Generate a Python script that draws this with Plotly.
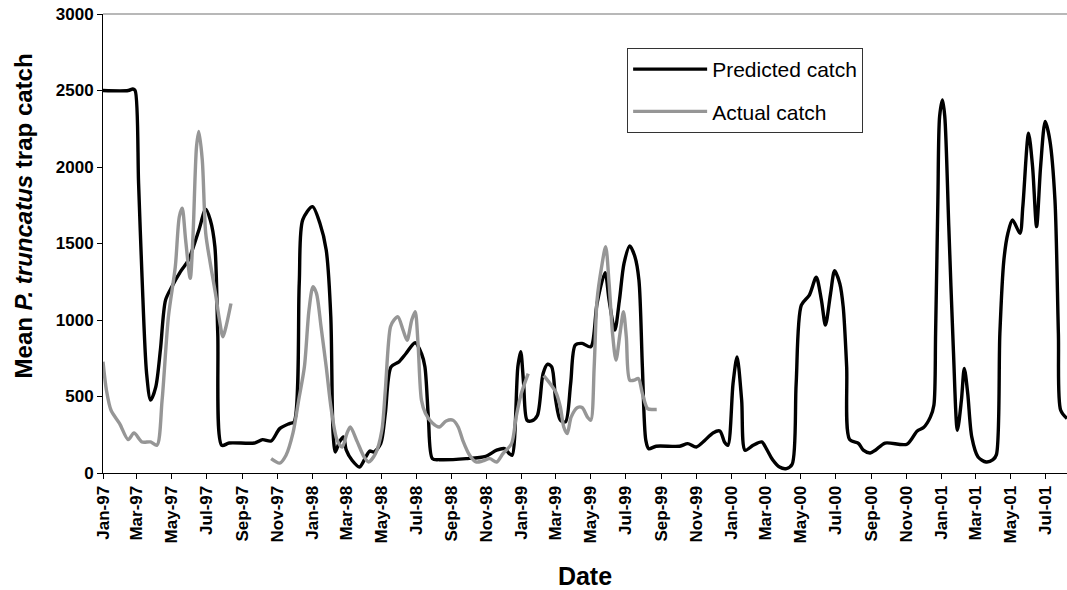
import plotly.graph_objects as go

# Predicted trap catch (model output)
pred_dates = [
    "1997-01-01", "1997-02-14", "1997-02-22", "1997-02-26", "1997-03-04", "1997-03-10",
    "1997-03-18", "1997-03-25", "1997-04-03", "1997-04-11", "1997-04-20", "1997-05-01",
    "1997-05-16", "1997-05-30", "1997-06-17", "1997-06-29", "1997-07-07", "1997-07-15",
    "1997-07-20", "1997-07-27", "1997-08-09", "1997-09-22", "1997-10-06", "1997-10-21",
    "1997-11-05", "1997-11-22", "1997-11-30", "1997-12-09", "1997-12-15", "1998-01-01",
    "1998-01-14", "1998-01-25", "1998-02-02", "1998-02-06", "1998-02-10", "1998-02-17",
    "1998-02-24", "1998-03-01", "1998-03-11", "1998-03-24", "1998-04-04", "1998-04-11",
    "1998-04-18", "1998-04-30", "1998-05-08", "1998-05-18", "1998-06-01", "1998-06-13",
    "1998-06-29", "1998-07-10", "1998-07-16", "1998-07-22", "1998-07-29", "1998-08-10",
    "1998-09-26", "1998-10-30", "1998-11-18", "1998-12-02", "1998-12-10", "1998-12-15",
    "1998-12-25", "1998-12-30", "1999-01-04", "1999-01-10", "1999-01-18", "1999-01-28",
    "1999-02-07", "1999-02-15", "1999-02-22", "1999-03-01", "1999-03-09", "1999-03-18",
    "1999-03-27", "1999-04-04", "1999-04-16", "1999-05-01", "1999-05-12", "1999-05-26",
    "1999-06-02", "1999-06-12", "1999-06-20", "1999-06-28", "1999-07-08", "1999-07-17",
    "1999-07-24", "1999-07-30", "1999-08-05", "1999-08-10", "1999-08-23", "1999-10-03",
    "1999-10-17", "1999-11-01", "1999-11-16", "1999-11-30", "1999-12-12", "1999-12-20",
    "1999-12-26", "2000-01-04", "2000-01-11", "2000-01-19", "2000-01-25", "2000-02-08",
    "2000-02-23", "2000-03-02", "2000-03-13", "2000-03-25", "2000-04-06", "2000-04-16",
    "2000-04-23", "2000-05-02", "2000-05-16", "2000-05-28", "2000-06-06", "2000-06-13",
    "2000-06-22", "2000-06-29", "2000-07-08", "2000-07-14", "2000-07-20", "2000-07-25",
    "2000-08-10", "2000-08-18", "2000-08-30", "2000-09-08", "2000-09-25", "2000-11-02",
    "2000-11-20", "2000-12-01", "2000-12-13", "2000-12-19", "2000-12-22", "2000-12-26",
    "2000-12-29", "2001-01-03", "2001-01-07", "2001-01-14", "2001-01-22", "2001-01-29",
    "2001-02-05", "2001-02-10", "2001-02-16", "2001-02-23", "2001-03-06", "2001-03-20",
    "2001-04-01", "2001-04-07", "2001-04-13", "2001-04-20", "2001-04-27", "2001-05-05",
    "2001-05-18", "2001-05-23", "2001-06-02", "2001-06-09", "2001-06-16", "2001-06-23",
    "2001-07-01", "2001-07-09", "2001-07-18", "2001-07-24", "2001-07-28", "2001-08-08",
]
pred_catch = [
    2500, 2500, 2510, 2500, 1894, 1283,
    650, 476, 563, 803, 1130, 1217,
    1316, 1392, 1587, 1724, 1654, 1479,
    912, 181, 196, 196, 218, 209,
    290, 323, 334, 1239, 1654, 1741,
    1632, 1457, 1021, 259, 137, 203,
    236, 149, 83, 39, 105, 144,
    137, 192, 389, 694, 727, 781,
    851, 781, 694, 367, 94, 87,
    94, 109, 149, 159, 127, 116,
    694, 792, 585, 345, 340, 376,
    650, 711, 694, 476, 345, 334,
    585, 836, 847, 825, 1108, 1309,
    1130, 934, 1130, 1370, 1484, 1414,
    1261, 694, 214, 159, 175, 175,
    192, 170, 214, 262, 275, 203,
    181, 585, 759, 476, 149, 181,
    203, 159, 87, 39, 29, 57,
    585, 1097, 1163, 1279, 1130, 967,
    1174, 1322, 1239, 1086, 694, 220,
    192, 149, 131, 149, 196, 188,
    275, 297, 367, 443, 912, 1785,
    2330, 2439, 2330, 1610, 803, 279,
    476, 683, 520, 236, 105, 72,
    87, 120, 912, 1392, 1567, 1654,
    1567, 1741, 2221, 2003, 1610, 2003,
    2297, 2177, 1785, 912, 410, 356,
]

# Actual trap catch (gaps where no trapping took place)
actual_dates = [
    "1997-01-01", "1997-01-07", "1997-01-15", "1997-01-30", "1997-02-14", "1997-02-24",
    "1997-03-10", "1997-03-25", "1997-04-05", "1997-04-14", "1997-04-25", "1997-05-07",
    "1997-05-14", "1997-05-19", "1997-05-25", "1997-06-02", "1997-06-07", "1997-06-13",
    "1997-06-17", "1997-06-23", "1997-06-29", "1997-07-07", "1997-07-16", "1997-07-23",
    "1997-07-29", "1997-08-04", "1997-08-12",
    "1997-09-15",
    "1997-10-21", "1997-11-05", "1997-11-16", "1997-11-28", "1997-12-08", "1997-12-18",
    "1997-12-26", "1998-01-02", "1998-01-08", "1998-01-16", "1998-01-25", "1998-02-03",
    "1998-02-13", "1998-02-22", "1998-03-02", "1998-03-08", "1998-03-20", "1998-04-01",
    "1998-04-09", "1998-04-21", "1998-05-02", "1998-05-08", "1998-05-17", "1998-05-23",
    "1998-05-30", "1998-06-08", "1998-06-15", "1998-06-23", "1998-06-29", "1998-07-04",
    "1998-07-10", "1998-07-17", "1998-07-29", "1998-08-10", "1998-08-22", "1998-09-03",
    "1998-09-12", "1998-09-20", "1998-10-02", "1998-10-13", "1998-10-25", "1998-11-06",
    "1998-11-18", "1998-11-29", "1998-12-14", "1998-12-22", "1998-12-31", "1999-01-12",
    "1999-01-26",
    "1999-02-08", "1999-02-19", "1999-03-01", "1999-03-09", "1999-03-15", "1999-03-21",
    "1999-03-28", "1999-04-08", "1999-04-16", "1999-04-25", "1999-05-01", "1999-05-07",
    "1999-05-12", "1999-05-20", "1999-05-27", "1999-06-02", "1999-06-08", "1999-06-14",
    "1999-06-21", "1999-06-27", "1999-07-02", "1999-07-08", "1999-07-16", "1999-07-23",
    "1999-07-30", "1999-08-08", "1999-08-17", "1999-08-24",
]
actual_catch = [
    727, 541, 410, 323, 218, 262,
    203, 203, 181, 476, 1021, 1348,
    1675, 1730, 1523, 1272, 1567, 2134,
    2232, 2046, 1567, 1370, 1174, 999,
    890, 967, 1108,
    None,
    94, 65, 116, 260, 476, 694,
    1065, 1217, 1174, 956, 694, 410,
    214, 170, 258, 301, 205, 105,
    72, 127, 279, 540, 956, 999,
    1021, 934, 868, 999, 1054, 847,
    476, 389, 327, 301, 340, 345,
    301, 214, 116, 72, 79, 94,
    72, 127, 192, 367, 520, 650,
    None,
    636, 585, 530, 432, 301, 258,
    367, 428, 428, 367, 345, 694,
    1130, 1348, 1479, 1239, 912, 738,
    912, 1054, 890, 607, 607, 618,
    520, 421, 415, 415,
]

y_ticks = [0, 500, 1000, 1500, 2000, 2500, 3000]

FONT = "Arial, 'Liberation Sans', Helvetica, sans-serif"

fig = go.Figure()
fig.add_trace(go.Scatter(
    x=pred_dates, y=pred_catch, name="Predicted catch", mode="lines",
    legendgroup="pred",
    line=dict(color="#000000", width=3.4, shape="spline", smoothing=0.8),
))
fig.add_trace(go.Scatter(
    x=actual_dates, y=actual_catch, name="Actual catch", mode="lines",
    legendgroup="actual", connectgaps=False,
    line=dict(color="#969696", width=3.4, shape="spline", smoothing=0.8),
))

fig.update_layout(
    width=1067, height=590,
    margin=dict(l=103, r=0, t=14, b=117),
    paper_bgcolor="white", plot_bgcolor="white",
    font=dict(family=FONT, color="#000000"),
    showlegend=True,
    legend=dict(
        x=0.5437, y=0.926, xanchor="left", yanchor="top",
        bordercolor="#333333", borderwidth=1, bgcolor="white",
        font=dict(size=21, family=FONT),
        itemwidth=74, tracegroupgap=12,
    ),
    xaxis=dict(
        type="date",
        range=["1997-01-01", "2001-08-08"],
        tick0="1997-01-01", dtick="M2", tickformat="%b-%y",
        tickangle=-90, ticks="outside", ticklen=5, tickcolor="#000000",
        tickfont=dict(size=17, family=FONT, weight="bold"),
        showline=True, linecolor="#000000", linewidth=1,
        showgrid=False, zeroline=False,
        title=dict(text="<b>Date</b>", font=dict(size=25, family=FONT), standoff=26),
    ),
    yaxis=dict(
        range=[0, 3000], tickvals=y_ticks,
        ticks="outside", ticklen=5, tickcolor="#000000",
        tickfont=dict(size=17, family=FONT, weight="bold"),
        showline=True, linecolor="#000000", linewidth=1,
        showgrid=False, zeroline=False,
    ),
    annotations=[dict(
        text="<b>Mean <i>P. truncatus</i> trap catch</b>",
        xref="paper", yref="paper", x=0, y=0.559, xshift=-80,
        xanchor="center", yanchor="middle", textangle=-90, showarrow=False,
        font=dict(size=24, family=FONT),
    )],
    shapes=[dict(type="line", xref="paper", yref="paper", x0=0, x1=1, y0=1, y1=1,
                 line=dict(color="#a0a0a0", width=1.5))],
)

fig.write_html("out.html")
